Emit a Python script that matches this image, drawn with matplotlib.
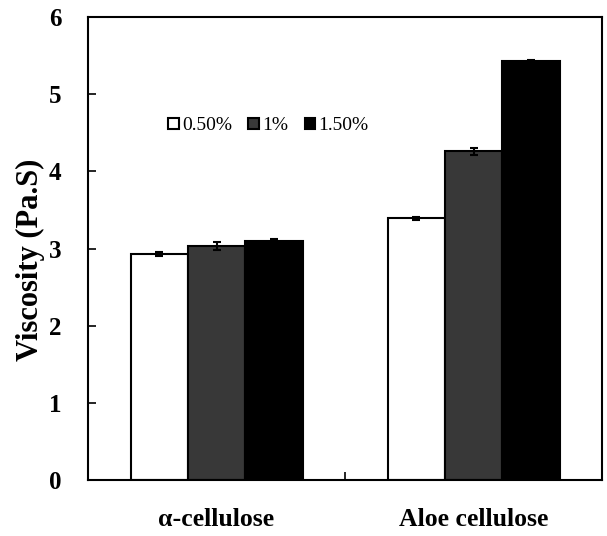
import matplotlib
matplotlib.use("Agg")
import matplotlib.pyplot as plt
import numpy as np
from matplotlib.patches import Patch

categories = ["\u03b1-cellulose", "Aloe cellulose"]
series_names = ["0.50%", "1%", "1.50%"]
values = {
    "0.50%": [2.93, 3.39],
    "1%": [3.03, 4.26],
    "1.50%": [3.10, 5.43],
}
errors = {
    "0.50%": [0.03, 0.02],
    "1%": [0.05, 0.05],
    "1.50%": [0.03, 0.02],
}
colors = ["white", "#383838", "black"]
yticks = [0, 1, 2, 3, 4, 5, 6]

plt.rcParams['font.family'] = ['Liberation Serif', 'DejaVu Serif']

fig = plt.figure(figsize=(6.07, 5.36), dpi=100)
ax = fig.add_axes([0.145, 0.1045, 0.847, 0.8635])

x = np.arange(len(categories))
w = 0.223
for i, name in enumerate(series_names):
    ax.bar(x + (i - 1) * w, values[name], width=w, color=colors[i],
           edgecolor="black", linewidth=1.5, zorder=2)
    ax.errorbar(x + (i - 1) * w, values[name], yerr=errors[name], fmt="none",
                ecolor="black", elinewidth=1.5, capsize=3, capthick=1.5, zorder=3)

ax.set_xlim(-0.5, 1.5)
ax.set_ylim(0, 6)
ax.set_yticks(yticks)
ax.set_yticklabels([str(t) for t in yticks], fontsize=18, fontweight="bold")
ax.tick_params(axis="y", direction="in", length=6, width=1.2, pad=19)
ax.set_xticks(x)
ax.set_xticklabels(categories, fontsize=18.5, fontweight="bold")
ax.tick_params(axis="x", which="major", length=0, pad=20)
ax.set_xticks([0.5], minor=True)
ax.tick_params(axis="x", which="minor", direction="in", length=6, width=1.2)
for s in ax.spines.values():
    s.set_linewidth(1.5)
ax.set_ylabel("Viscosity (Pa.S)", fontsize=22, fontweight="bold", va="center")
ax.yaxis.set_label_coords(-0.112, 0.475)

handles = [Patch(facecolor=c, edgecolor="black", linewidth=1.5) for c in colors]
ax.legend(handles, series_names, ncol=3, frameon=False, fontsize=14,
          handlelength=0.55, handleheight=0.55, handletextpad=0.15,
          columnspacing=0.85, loc="center left", bbox_to_anchor=(0.122, 0.765))

fig.savefig("out.png", dpi=100)
